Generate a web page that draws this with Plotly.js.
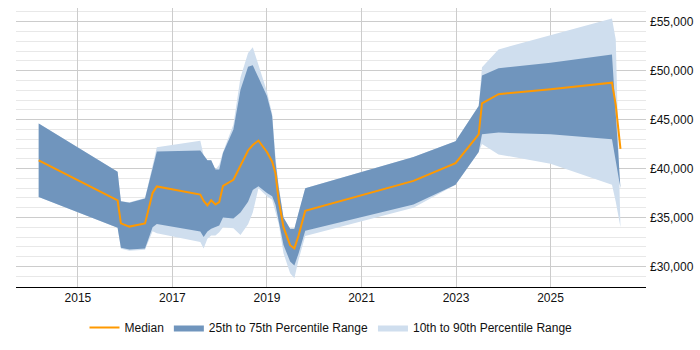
<!DOCTYPE html>
<html>
<head>
<meta charset="utf-8">
<script src="https://cdn.plot.ly/plotly-3.0.1.min.js"></script>
<style>
  html, body { margin: 0; padding: 0; background: #fff; }
  #chart { width: 700px; height: 350px; }
</style>
</head>
<body>
<div id="chart"></div>
<script>
// Salary percentiles over time (decimal years)
const years = [2014.17, 2015.84, 2015.91, 2016.09, 2016.42, 2016.58, 2016.67, 2017.59, 2017.66, 2017.74,
               2017.82, 2017.91, 2017.99, 2018.07, 2018.29, 2018.44, 2018.60, 2018.70, 2018.82, 2019.00,
               2019.11, 2019.18, 2019.25, 2019.35, 2019.49, 2019.58, 2019.67, 2019.81, 2022.10, 2022.99,
               2023.48, 2023.55, 2023.90, 2025.00, 2026.30, 2026.38, 2026.48];

const p10 = [37100, 33940, 31800, 31600, 31700, 33600, 33400, 32500, 31840, 32840,
             33170, 33170, 33500, 34000, 33900, 33200, 34300, 35500, 38000, 37180,
             36800, 35600, 34300, 31340, 29300, 28800, 30700, 33100, 36000, 38350,
             41700, 42500, 41440, 40500, 38340, 36600, 34000];

const p25 = [37100, 33940, 31900, 31740, 31840, 34000, 34340, 33570, 33000, 33570,
             33840, 34000, 34170, 35000, 34900, 35500, 36600, 37800, 38200, 37500,
             37180, 36300, 34700, 32200, 30500, 30100, 31340, 33650, 36340, 38350,
             41700, 43500, 43670, 43500, 43000, 40900, 38000];

const median = [40840, 36740, 34400, 34070, 34400, 37500, 38170, 37340, 36700, 36240,
                36770, 36340, 36570, 38240, 38850, 40350, 41850, 42400, 42860, 41690,
                40700, 39520, 36680, 34010, 32170, 31840, 33180, 35680, 38740, 40550,
                43500, 46670, 47600, 48100, 48770, 46500, 42000];

const p75 = [44600, 39670, 36670, 36500, 36940, 40000, 41750, 41840, 41340, 40840,
             40840, 39900, 39900, 41600, 44000, 48040, 50400, 50540, 49300, 47400,
             45360, 40700, 38000, 35000, 33840, 33840, 35500, 38000, 41170, 42800,
             46400, 49500, 50240, 50800, 51640, 45700, 38000];

const p90 = [44600, 39670, 36670, 36550, 37000, 40200, 42170, 42840, 41370, 40840,
             40840, 39900, 40400, 41700, 44500, 49300, 51800, 52400, 50500, 47860,
             45600, 41200, 38200, 35000, 33840, 33840, 35500, 38000, 41170, 42800,
             46400, 50340, 52170, 53600, 55340, 53170, 34000];

const xTicks = [2015, 2017, 2019, 2021, 2023, 2025];

const LIGHT = 'rgb(207,222,238)';
const DARK = 'rgb(112,149,189)';
const ORANGE = 'rgb(255,153,0)';

const traces = [
  { x: years, y: p10, type: 'scatter', mode: 'lines', line: { width: 0, color: LIGHT },
    showlegend: false, hoverinfo: 'skip' },
  { x: years, y: p90, type: 'scatter', mode: 'lines', line: { width: 0, color: LIGHT },
    fill: 'tonexty', fillcolor: LIGHT, name: '10th to 90th Percentile Range', legendrank: 3 },
  { x: years, y: p25, type: 'scatter', mode: 'lines', line: { width: 0, color: DARK },
    showlegend: false, hoverinfo: 'skip' },
  { x: years, y: p75, type: 'scatter', mode: 'lines', line: { width: 0, color: DARK },
    fill: 'tonexty', fillcolor: DARK, name: '25th to 75th Percentile Range', legendrank: 2 },
  { x: years, y: median, type: 'scatter', mode: 'lines', line: { width: 2, color: ORANGE },
    name: 'Median', legendrank: 1 }
];

const layout = {
  width: 700, height: 350,
  margin: { l: 16, r: 54, t: 8, b: 57 },
  paper_bgcolor: '#fff', plot_bgcolor: '#fff',
  font: { family: 'Liberation Sans, Arial, sans-serif', size: 12, color: '#111' },
  showlegend: true,
  legend: { orientation: 'h', x: 0.5, xanchor: 'center', y: -0.145, yanchor: 'middle',
            font: { size: 12, color: '#111' }, traceorder: 'normal' },
  xaxis: {
    range: [2013.69, 2027.02],
    tickmode: 'array', tickvals: xTicks, ticktext: xTicks.map(String),
    showgrid: true, gridcolor: '#cccccc', gridwidth: 1,
    showline: true, linecolor: '#000', linewidth: 1,
    zeroline: false, ticks: '', fixedrange: true
  },
  yaxis: {
    range: [27900, 56400], side: 'right',
    dtick: 5000, tick0: 0, tickprefix: '£', tickformat: ',d',
    ticklabelstandoff: 3,
    showgrid: true, gridcolor: '#cccccc', gridwidth: 1,
    minor: { dtick: 1000, showgrid: true, gridcolor: '#e8e8e8', gridwidth: 1 },
    showline: false, zeroline: false, ticks: '', fixedrange: true
  }
};

Plotly.newPlot('chart', traces, layout, { displayModeBar: false, staticPlot: true });
</script>
</body>
</html>
